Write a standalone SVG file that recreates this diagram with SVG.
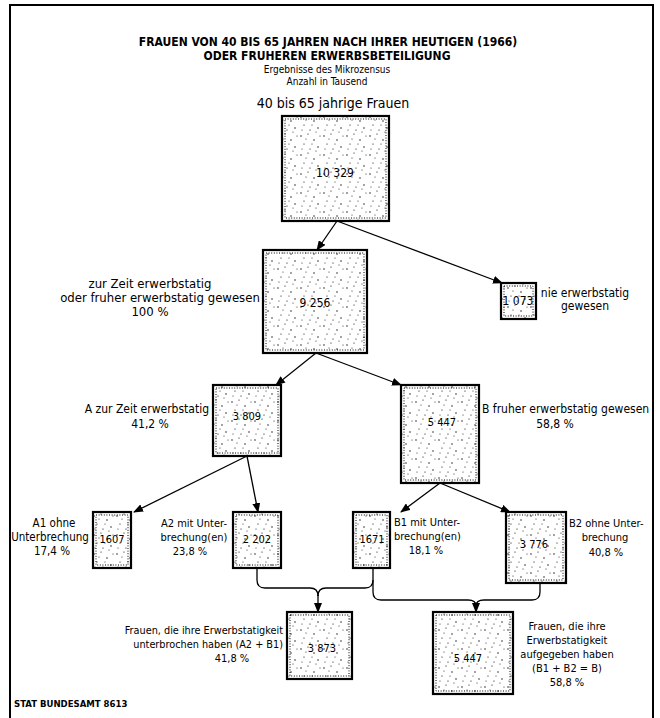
<svg xmlns="http://www.w3.org/2000/svg" width="660" height="718" viewBox="0 0 660 718">
<defs>
<pattern id="dots" patternUnits="userSpaceOnUse" width="23" height="19">
<circle cx="2" cy="3" r="0.7" fill="#000"/><circle cx="9" cy="1" r="0.6" fill="#000"/><circle cx="15" cy="7" r="0.7" fill="#000"/><circle cx="5" cy="11" r="0.6" fill="#000"/><circle cx="19" cy="14" r="0.7" fill="#000"/><circle cx="11" cy="16" r="0.6" fill="#000"/><circle cx="21" cy="3" r="0.5" fill="#000"/><circle cx="7" cy="6" r="0.5" fill="#000"/><circle cx="13" cy="11" r="0.5" fill="#000"/><circle cx="17" cy="18" r="0.5" fill="#000"/><circle cx="3" cy="16" r="0.5" fill="#000"/>
</pattern>
<marker id="ah" markerWidth="10" markerHeight="8" refX="9" refY="4" orient="auto" markerUnits="userSpaceOnUse"><path d="M0,0 L10,4 L0,8 Z" fill="#000"/></marker>
<style>
text{font-family:"DejaVu Sans Condensed","Liberation Sans Narrow","Liberation Sans",sans-serif;font-stretch:condensed;fill:#000}
.t{font-weight:bold;font-size:12px}
.s{font-size:10px}
.l{font-size:12px}
.m{font-size:11px}
.n{font-size:12px}
.box{fill:url(#dots);stroke:#000;stroke-width:2.2}
.inner{fill:none;stroke:#000;stroke-width:1;stroke-dasharray:1 1.6}
.c{fill:none;stroke:#000;stroke-width:1.3}
.frame{fill:none;stroke:#000;stroke-width:2}
</style>
</defs>
<rect width="660" height="718" fill="#fff"/>
<path class="frame" d="M10,718 V5 H653 V718"/>
<g id="title">
<text class="t" x="328" y="46" text-anchor="middle">FRAUEN VON 40 BIS 65 JAHREN NACH IHRER HEUTIGEN (1966)</text>
<text class="t" x="327" y="60" text-anchor="middle">ODER FRUHEREN ERWERBSBETEILIGUNG</text>
<text class="s" x="327" y="73" text-anchor="middle">Ergebnisse des Mikrozensus</text>
<text class="s" x="327" y="85" text-anchor="middle">Anzahl in Tausend</text>
</g>
<g id="connectors">
<line class="c" x1="337" y1="221" x2="317" y2="250" marker-end="url(#ah)"/>
<line class="c" x1="337" y1="221" x2="502" y2="283" marker-end="url(#ah)"/>
<line class="c" x1="316" y1="353" x2="276" y2="385" marker-end="url(#ah)"/>
<line class="c" x1="316" y1="353" x2="401" y2="385" marker-end="url(#ah)"/>
<line class="c" x1="247" y1="456" x2="134" y2="512" marker-end="url(#ah)"/>
<line class="c" x1="247" y1="456" x2="258" y2="512" marker-end="url(#ah)"/>
<line class="c" x1="440" y1="483" x2="401" y2="512" marker-end="url(#ah)"/>
<line class="c" x1="440" y1="483" x2="510" y2="512" marker-end="url(#ah)"/>
<path class="c" d="M257,568 V580 Q257,588 265,588 H310 Q318,588 318,596"/>
<path class="c" d="M373,568 V580 Q373,588 365,588 H326 Q318,588 318,596"/>
<line class="c" x1="318" y1="595" x2="318" y2="612" marker-end="url(#ah)"/>
<path class="c" d="M373,580 V592 Q373,600 381,600 H468 Q476,600 476,606"/>
<path class="c" d="M540,583 V592 Q540,600 532,600 H484 Q476,600 476,606"/>
<line class="c" x1="476" y1="604" x2="476" y2="612" marker-end="url(#ah)"/>
</g>
<g id="n-total">
<text x="333" y="108" text-anchor="middle" style="font-size:14px">40 bis 65 jahrige Frauen</text>
<rect class="box" x="282" y="116" width="107" height="105"/>
<rect class="inner" x="285" y="119" width="101" height="99"/>
<text class="n" x="335" y="177" text-anchor="middle">10 329</text>
</g>
<g id="n-9256">
<rect class="box" x="263" y="250" width="104" height="103"/>
<rect class="inner" x="266" y="253" width="98" height="97"/>
<text class="n" x="315" y="307" text-anchor="middle">9 256</text>
<text x="150" y="288" text-anchor="middle" style="font-size:13px">zur Zeit erwerbstatig</text>
<text x="160" y="302" text-anchor="middle" style="font-size:13px">oder fruher erwerbstatig gewesen</text>
<text x="150" y="316" text-anchor="middle" style="font-size:13px">100 %</text>
</g>
<g id="n-1073">
<rect class="box" x="501" y="283" width="35" height="36"/>
<rect class="inner" x="504" y="286" width="29" height="30"/>
<text class="n" x="518" y="305" text-anchor="middle">1 073</text>
<text class="l" x="585" y="297" text-anchor="middle">nie erwerbstatig</text>
<text class="l" x="585" y="310" text-anchor="middle">gewesen</text>
</g>
<g id="n-A">
<rect class="box" x="213" y="385" width="68" height="71"/>
<rect class="inner" x="216" y="388" width="62" height="65"/>
<text class="n" x="247" y="420" text-anchor="middle" style="font-size:11px">3 809</text>
<text class="l" x="209" y="413" text-anchor="end">A zur Zeit erwerbstatig</text>
<text class="l" x="150" y="428" text-anchor="middle">41,2 %</text>
</g>
<g id="n-B">
<rect class="box" x="401" y="385" width="78" height="98"/>
<rect class="inner" x="404" y="388" width="72" height="92"/>
<text class="n" x="442" y="426" text-anchor="middle" style="font-size:11px">5 447</text>
<text class="l" x="482" y="413" text-anchor="start">B fruher erwerbstatig gewesen</text>
<text class="l" x="555" y="428" text-anchor="middle">58,8 %</text>
</g>
<g id="n-A1">
<rect class="box" x="93" y="512" width="38" height="56"/>
<rect class="inner" x="96" y="515" width="32" height="50"/>
<text class="n" x="112" y="543" text-anchor="middle" style="font-size:11px">1607</text>
<text class="l" x="54" y="527" text-anchor="middle" style="font-size:11.5px">A1 ohne</text>
<text class="l" x="50" y="541" text-anchor="middle" style="font-size:11.5px">Unterbrechung</text>
<text class="l" x="52" y="555" text-anchor="middle" style="font-size:11.5px">17,4 %</text>
</g>
<g id="n-A2">
<rect class="box" x="233" y="512" width="48" height="56"/>
<rect class="inner" x="236" y="515" width="42" height="50"/>
<text class="n" x="257" y="543" text-anchor="middle" style="font-size:11px">2 202</text>
<text class="m" x="194" y="527" text-anchor="middle">A2 mit Unter-</text>
<text class="m" x="194" y="541" text-anchor="middle">brechung(en)</text>
<text class="m" x="190" y="555" text-anchor="middle">23,8 %</text>
</g>
<g id="n-B1">
<rect class="box" x="353" y="512" width="37" height="56"/>
<rect class="inner" x="356" y="515" width="31" height="50"/>
<text class="n" x="372" y="543" text-anchor="middle" style="font-size:11px">1671</text>
<text class="m" x="394" y="526" text-anchor="start">B1 mit Unter-</text>
<text class="m" x="394" y="540" text-anchor="start">brechung(en)</text>
<text class="m" x="426" y="554" text-anchor="middle">18,1 %</text>
</g>
<g id="n-B2">
<rect class="box" x="506" y="512" width="60" height="71"/>
<rect class="inner" x="509" y="515" width="54" height="65"/>
<text class="n" x="534" y="548" text-anchor="middle" style="font-size:11px">3 776</text>
<text class="m" x="569" y="527" text-anchor="start">B2 ohne Unter-</text>
<text class="m" x="605" y="541" text-anchor="middle">brechung</text>
<text class="m" x="606" y="556" text-anchor="middle">40,8 %</text>
</g>
<g id="n-3873">
<rect class="box" x="287" y="612" width="65" height="67"/>
<rect class="inner" x="290" y="615" width="59" height="61"/>
<text class="n" x="322" y="652" text-anchor="middle" style="font-size:11px">3 873</text>
<text class="m" x="283" y="634" text-anchor="end" style="font-size:10.8px">Frauen, die ihre Erwerbstatigkeit</text>
<text class="m" x="283" y="648" text-anchor="end" style="font-size:10.8px">unterbrochen haben (A2 + B1)</text>
<text class="m" x="232" y="662" text-anchor="middle">41,8 %</text>
</g>
<g id="n-5447b">
<rect class="box" x="433" y="612" width="80" height="82"/>
<rect class="inner" x="436" y="615" width="74" height="76"/>
<text class="n" x="468" y="662" text-anchor="middle" style="font-size:11px">5 447</text>
<text class="m" x="567" y="630" text-anchor="middle">Frauen, die ihre</text>
<text class="m" x="567" y="644" text-anchor="middle">Erwerbstatigkeit</text>
<text class="m" x="567" y="658" text-anchor="middle">aufgegeben haben</text>
<text class="m" x="567" y="672" text-anchor="middle">(B1 + B2 = B)</text>
<text class="m" x="567" y="686" text-anchor="middle">58,8 %</text>
</g>
<g id="footer">
<text x="14" y="707" style="font-size:9.5px;font-weight:bold">STAT BUNDESAMT 8613</text>
</g>
</svg>
